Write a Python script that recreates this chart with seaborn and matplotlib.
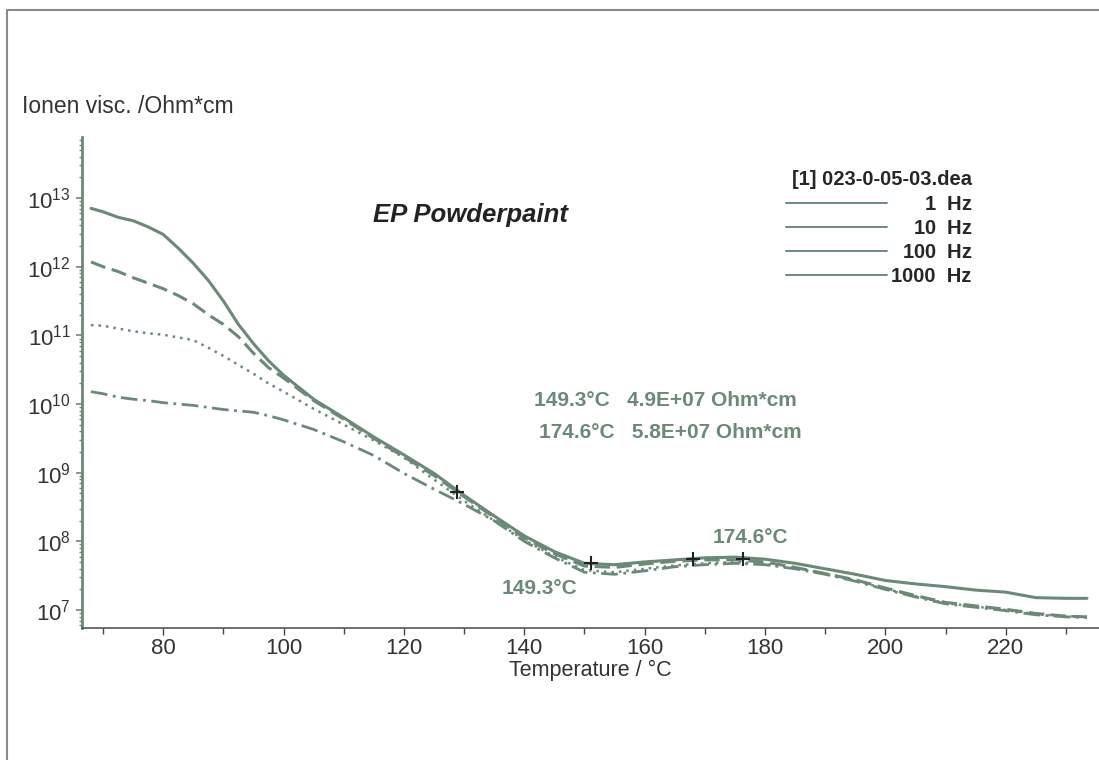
import pandas as pd
import seaborn as sns
import matplotlib.pyplot as plt
from matplotlib.lines import Line2D
from matplotlib.patches import Rectangle
from matplotlib.ticker import MultipleLocator, FixedLocator, LogLocator, NullFormatter

# temperature grid (deg C) and log10 of ion viscosity (Ohm*cm)
temperature = [68, 70, 72.5, 75, 77.5, 80, 82.5, 85, 87.5, 90, 92.5, 95, 97.5, 100,
               105, 110, 115, 120, 125, 130, 135, 140, 145, 150, 155, 160, 165, 170,
               175, 180, 185, 190, 195, 200, 205, 210, 215, 220, 225, 230, 233.5]

log_1hz = [12.85, 12.80, 12.72, 12.67, 12.58, 12.47, 12.27, 12.05, 11.80, 11.50, 11.16,
           10.88, 10.63, 10.42, 10.07, 9.80, 9.52, 9.26, 8.99, 8.67, 8.37, 8.08, 7.85,
           7.68, 7.66, 7.70, 7.73, 7.76, 7.77, 7.74, 7.68, 7.60, 7.52, 7.43, 7.38, 7.34,
           7.29, 7.26, 7.18, 7.17, 7.17]
log_10hz = [12.07, 12.00, 11.93, 11.84, 11.76, 11.68, 11.58, 11.46, 11.30, 11.16, 10.98,
            10.74, 10.53, 10.38, 10.05, 9.78, 9.50, 9.23, 8.96, 8.65, 8.35, 8.05, 7.82,
            7.64, 7.62, 7.67, 7.71, 7.73, 7.73, 7.70, 7.62, 7.53, 7.44, 7.32, 7.21, 7.11,
            7.06, 7.01, 6.95, 6.91, 6.90]
log_100hz = [11.15, 11.14, 11.10, 11.06, 11.03, 11.01, 10.97, 10.93, 10.82, 10.70, 10.57,
             10.44, 10.30, 10.18, 9.93, 9.70, 9.47, 9.22, 8.90, 8.59, 8.30, 8.02, 7.78,
             7.58, 7.55, 7.60, 7.65, 7.68, 7.70, 7.67, 7.61, 7.53, 7.43, 7.31, 7.20, 7.10,
             7.05, 7.00, 6.94, 6.91, 6.90]
log_1000hz = [10.18, 10.15, 10.10, 10.07, 10.05, 10.02, 10.00, 9.98, 9.95, 9.92, 9.90,
              9.88, 9.83, 9.77, 9.63, 9.45, 9.25, 8.99, 8.76, 8.54, 8.30, 8.00, 7.76,
              7.55, 7.52, 7.57, 7.63, 7.66, 7.68, 7.66, 7.60, 7.52, 7.42, 7.30, 7.19, 7.09,
              7.04, 6.99, 6.93, 6.90, 6.89]

frequencies = ['1 Hz', '10 Hz', '100 Hz', '1000 Hz']
legend_digits = ['1', '10', '100', '1000']
decade_ticks = [1e7, 1e8, 1e9, 1e10, 1e11, 1e12, 1e13]

# cursor marks
cursor_temp = [128.8, 151.1, 168.0, 176.3]
cursor_visc = [5.3e8, 4.9e7, 5.5e7, 5.6e7]

rows = []
for freq, vals in zip(frequencies, [log_1hz, log_10hz, log_100hz, log_1000hz]):
    for t, v in zip(temperature, vals):
        rows.append((freq, t, 10 ** v))
df = pd.DataFrame(rows, columns=['Frequency', 'Temperature', 'Visc'])

sns.set_style('ticks')
plt.rcParams['font.family'] = ['Liberation Sans', 'DejaVu Sans']
plt.rcParams['mathtext.fontset'] = 'custom'
plt.rcParams['mathtext.rm'] = 'Liberation Sans'
plt.rcParams['mathtext.it'] = 'Liberation Sans:italic'
plt.rcParams['mathtext.bf'] = 'Liberation Sans:bold'

green = '#6a8a77'
dark = '#333333'

fig = plt.figure(figsize=(10.99, 7.6), dpi=100)
ax = fig.add_axes([0.0746, 0.1737, 0.9254, 0.646])
ax.set_yscale('log')

line_styles = {
    '1 Hz': dict(ls='-', lw=2.2),
    '10 Hz': dict(ls=(0, (5, 2.2)), lw=2.2),
    '100 Hz': dict(ls=(0, (1, 2)), lw=1.8),
    '1000 Hz': dict(ls=(0, (6, 2, 1, 2)), lw=2.0),
}
for freq in frequencies:
    sns.lineplot(data=df[df['Frequency'] == freq], x='Temperature', y='Visc',
                 color=green, errorbar=None, legend=False, ax=ax, **line_styles[freq])

sns.scatterplot(x=cursor_temp, y=cursor_visc, marker='+', s=100, color='#222222',
                linewidth=1.5, ax=ax, zorder=5)

ax.set_xlim(66.5, 235.5)
ax.set_ylim(10 ** 6.738, 10 ** 13.889)

ax.xaxis.set_major_locator(MultipleLocator(20))
ax.xaxis.set_minor_locator(MultipleLocator(10))
ax.yaxis.set_major_locator(FixedLocator(decade_ticks))
ax.yaxis.set_minor_locator(LogLocator(base=10, subs=[2, 3, 4, 5, 6, 7, 8, 9], numticks=40))
ax.yaxis.set_minor_formatter(NullFormatter())

ax.tick_params(axis='x', which='major', length=5, width=1, color='#444444',
               labelsize=16, labelcolor=dark, pad=2)
ax.tick_params(axis='x', which='minor', length=4, width=1, color='#444444')
ax.tick_params(axis='y', which='major', length=4, width=1.2, color=green,
               labelsize=16, labelcolor=dark, pad=4)
ax.tick_params(axis='y', which='minor', length=2, width=1, color=green)

sns.despine(ax=ax)
ax.spines['left'].set_color(green)
ax.spines['left'].set_linewidth(2)
ax.spines['bottom'].set_color('#555555')
ax.spines['bottom'].set_linewidth(1.2)

ax.set_xlabel('Temperature / °C', fontsize=15.5, color=dark, labelpad=1)
ax.set_ylabel('Ionen visc. /Ohm*cm', fontsize=16.5, color=dark, rotation=0,
              ha='left', va='center')
ax.yaxis.set_label_coords(-0.059, 1.063)

ax.text(131, 10 ** 12.75, 'EP Powderpaint', fontsize=18.5, fontweight='bold',
        fontstyle='italic', color='#222222', ha='center', va='center')

ann = dict(fontsize=15, fontweight='bold', color=green, ha='center', va='center')
ax.text(163.4, 10 ** 10.05, '149.3°C   4.9E+07 Ohm*cm', **ann)
ax.text(164.2, 10 ** 9.58, '174.6°C   5.8E+07 Ohm*cm', **ann)
ax.text(177.5, 10 ** 8.06, '174.6°C', **ann)
ax.text(142.6, 10 ** 7.32, '149.3°C', **ann)

# legend labels right-aligned with mathtext spacing when available
try:
    from matplotlib.mathtext import MathTextParser
    MathTextParser('agg').parse(r'$\hspace{1.0}\mathbf{1}$', 72)
    has_space = True
except Exception:
    has_space = False

labels = []
for d in legend_digits:
    pad = (4 - len(d)) * 0.667
    if has_space and pad > 0:
        labels.append(r'$\hspace{%.3f}\mathbf{%s}$  Hz' % (pad, d))
    else:
        labels.append(d + '  Hz')

handles = [Line2D([], [], color=green, lw=1.4) for _ in legend_digits]
leg = ax.legend(handles, labels, title='[1] 023-0-05-03.dea', loc='upper right',
                bbox_to_anchor=(0.894, 0.789), bbox_transform=fig.transFigure,
                frameon=False, prop=dict(size=14.5, weight='bold'),
                title_fontproperties=dict(size=14.5, weight='bold'),
                handlelength=5.0, handletextpad=0.2, labelspacing=0.26,
                borderpad=0, alignment='right')

# outer frame of the exported picture
fig.add_artist(Rectangle((0.0064, -0.05), 1.1, 1.0368, transform=fig.transFigure,
                         fill=False, edgecolor='#8a8a8a', lw=1.5))

fig.savefig('out.png', dpi=100)
